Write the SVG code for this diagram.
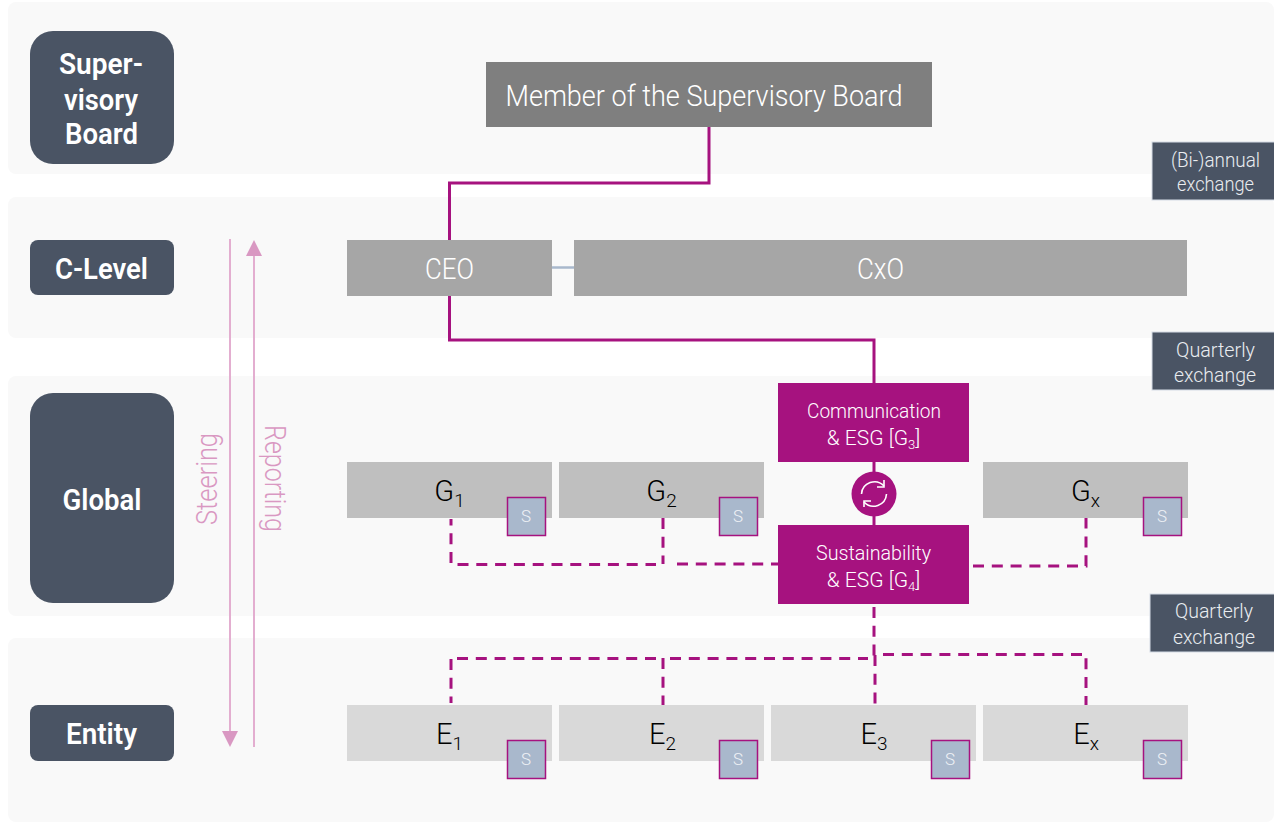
<svg xmlns="http://www.w3.org/2000/svg" width="1274" height="822" viewBox="0 0 1274 822">
<style>
text{font-family:Roboto,"Liberation Sans",sans-serif;font-weight:300;text-anchor:middle}
.band{fill:#f9f9f9}
.pill{fill:#4a5464}
.pt{fill:#fff;font-weight:600;font-size:30px}
.mem{fill:#7f7f7f}.c{fill:#a6a6a6}.g{fill:#bfbfbf}.e{fill:#d9d9d9}
.m{fill:#a6127f}
.w{fill:#fff;font-size:30px}
.k{fill:#000;font-size:29px;font-weight:300}
.mt{fill:#fff;font-size:21px}
.ex{fill:#4a5464;stroke:#d5dce6;stroke-width:1}
.ext{fill:#e9ecf0;font-size:21px}
.s rect{fill:#a9b8cc;stroke:#a6127f;stroke-width:1.500}
.s text{fill:#eef1f5;font-size:17px}
.sol{fill:none;stroke:#a6127f;stroke-width:3}
.das{fill:none;stroke:#a6127f;stroke-width:3;stroke-dasharray:11 7.800}
.pk{fill:#d998c2;font-size:29px}
.ar{stroke:#e3aed0;stroke-width:2;fill:none}
.hd{fill:#d998c2}
.ic{fill:none;stroke:#fff;stroke-width:1.600}
</style>
<g id="bands">
<rect class="band" x="8" y="2" width="1266" height="172" rx="8"/>
<rect class="band" x="8" y="197" width="1266" height="141" rx="8"/>
<rect class="band" x="8" y="376" width="1266" height="240" rx="8"/>
<rect class="band" x="8" y="638" width="1266" height="184" rx="8"/>
</g>
<g id="connectors">
<path class="sol" d="M709 127V183H449.500V240"/>
<path class="sol" d="M449.500 296V340H874V383"/>
<path d="M552 267.500H574" stroke="#a9b8cc" stroke-width="2.500" fill="none"/>
<path class="sol" d="M874 462V525"/>
<path class="das" d="M451 563V519"/>
<path class="das" d="M457.500 564.500H656"/>
<path class="das" d="M663 518V564"/>
<path class="das" d="M677 564H778"/>
<path class="das" d="M973 566H1086V518"/>
<path class="das" d="M874 607V656"/>
<path class="das" d="M875 655V705"/>
<path class="das" d="M451 659V703"/>
<path class="das" d="M457 658.500H656"/>
<path class="das" d="M663 658V706"/>
<path class="das" d="M670 658.500H868"/>
<path class="das" d="M883 654.500H1086V705"/>
</g>
<g id="steering">
<path class="ar" d="M230 239V733"/>
<path class="hd" d="M222 731H238L230 747Z"/>
<text class="pk" transform="translate(217 479) rotate(-90)" textLength="92" lengthAdjust="spacingAndGlyphs">Steering</text>
</g>
<g id="reporting">
<path class="ar" d="M254 747V250"/>
<path class="hd" d="M246 256H262L254 240Z"/>
<text class="pk" transform="translate(265 478.500) rotate(90)" textLength="107" lengthAdjust="spacingAndGlyphs">Reporting</text>
</g>
<g id="label-supervisory"><rect class="pill" x="30" y="31" width="144" height="133" rx="23"/>
<text class="pt" x="101" y="74" textLength="84" lengthAdjust="spacingAndGlyphs">Super-</text>
<text class="pt" x="101" y="109.500" textLength="74" lengthAdjust="spacingAndGlyphs">visory</text>
<text class="pt" x="101.500" y="143.500" textLength="73" lengthAdjust="spacingAndGlyphs">Board</text></g>
<g id="label-clevel"><rect class="pill" x="30" y="240" width="144" height="55" rx="8"/>
<text class="pt" x="101.500" y="279" textLength="93" lengthAdjust="spacingAndGlyphs">C-Level</text></g>
<g id="label-global"><rect class="pill" x="30" y="393" width="144" height="210" rx="23"/>
<text class="pt" x="102" y="510" textLength="79" lengthAdjust="spacingAndGlyphs">Global</text></g>
<g id="label-entity"><rect class="pill" x="30" y="705" width="144" height="56" rx="8"/>
<text class="pt" x="101.500" y="744" textLength="71" lengthAdjust="spacingAndGlyphs">Entity</text></g>
<g id="member"><rect class="mem" x="486" y="62" width="446" height="65"/>
<text class="w" x="704" y="106" textLength="397" lengthAdjust="spacingAndGlyphs">Member of the Supervisory Board</text></g>
<g id="ceo"><rect class="c" x="347" y="240" width="205" height="56"/>
<text class="w" x="449.500" y="279" textLength="49" lengthAdjust="spacingAndGlyphs">CEO</text></g>
<g id="cxo"><rect class="c" x="574" y="240" width="613" height="56"/>
<text class="w" x="880.500" y="279" textLength="47" lengthAdjust="spacingAndGlyphs">CxO</text></g>
<g id="comm"><rect class="m" x="778" y="383" width="191" height="79"/>
<text class="mt" x="874" y="418" textLength="134" lengthAdjust="spacingAndGlyphs">Communication</text>
<text class="mt" x="873.500" y="445">&amp; ESG [G<tspan font-size="13" dy="4">3</tspan><tspan dy="-4">]</tspan></text></g>
<g id="sust"><rect class="m" x="778" y="525" width="191" height="79"/>
<text class="mt" x="873.500" y="560" textLength="115" lengthAdjust="spacingAndGlyphs">Sustainability</text>
<text class="mt" x="873.500" y="587">&amp; ESG [G<tspan font-size="13" dy="4">4</tspan><tspan dy="-4">]</tspan></text></g>
<g id="cycle"><circle class="m" cx="874" cy="494" r="22.500"/>
<path class="ic" d="M861.500 494A13 13 0 0 1 884 486M886.500 494A13 13 0 0 1 864 502"/>
<path class="ic" d="M884 480V487H877M864 507V501H871"/></g>
<g id="g1"><rect class="g" x="347" y="462" width="205" height="56"/>
<text class="k" x="449.500" y="501">G<tspan font-size="19" dy="6">1</tspan></text></g>
<g id="g1-s" class="s"><rect x="507.500" y="497.500" width="38" height="38"/><text x="526" y="522">S</text></g>
<g id="g2"><rect class="g" x="559" y="462" width="205" height="56"/>
<text class="k" x="661.500" y="501">G<tspan font-size="19" dy="6">2</tspan></text></g>
<g id="g2-s" class="s"><rect x="719.500" y="497.500" width="38" height="38"/><text x="738" y="522">S</text></g>
<g id="gx"><rect class="g" x="983" y="462" width="205" height="56"/>
<text class="k" x="1085.500" y="501">G<tspan font-size="19" dy="6">x</tspan></text></g>
<g id="gx-s" class="s"><rect x="1143.500" y="497.500" width="38" height="38"/><text x="1162" y="522">S</text></g>
<g id="e1"><rect class="e" x="347" y="705" width="205" height="56"/>
<text class="k" x="449.500" y="744">E<tspan font-size="19" dy="6">1</tspan></text></g>
<g id="e1-s" class="s"><rect x="507.500" y="740.500" width="38" height="38"/><text x="526" y="765">S</text></g>
<g id="e2"><rect class="e" x="559" y="705" width="205" height="56"/>
<text class="k" x="662.500" y="744">E<tspan font-size="19" dy="6">2</tspan></text></g>
<g id="e2-s" class="s"><rect x="719.500" y="740.500" width="38" height="38"/><text x="738" y="765">S</text></g>
<g id="e3"><rect class="e" x="771" y="705" width="205" height="56"/>
<text class="k" x="874" y="744">E<tspan font-size="19" dy="6">3</tspan></text></g>
<g id="e3-s" class="s"><rect x="931.500" y="740.500" width="38" height="38"/><text x="950" y="765">S</text></g>
<g id="ex"><rect class="e" x="983" y="705" width="205" height="56"/>
<text class="k" x="1086" y="744">E<tspan font-size="19" dy="6">x</tspan></text></g>
<g id="ex-s" class="s"><rect x="1143.500" y="740.500" width="38" height="38"/><text x="1162" y="765">S</text></g>
<g id="exchange-1"><rect class="ex" x="1152" y="142" width="123" height="58"/>
<text class="ext" x="1215.500" y="167" textLength="89" lengthAdjust="spacingAndGlyphs">(Bi-)annual</text>
<text class="ext" x="1215.500" y="191" textLength="77" lengthAdjust="spacingAndGlyphs">exchange</text></g>
<g id="exchange-2"><rect class="ex" x="1152" y="332" width="123" height="58"/>
<text class="ext" x="1215.500" y="357" textLength="79" lengthAdjust="spacingAndGlyphs">Quarterly</text>
<text class="ext" x="1215" y="382" textLength="82" lengthAdjust="spacingAndGlyphs">exchange</text></g>
<g id="exchange-3"><rect class="ex" x="1150" y="594" width="125" height="58"/>
<text class="ext" x="1214" y="618" textLength="78" lengthAdjust="spacingAndGlyphs">Quarterly</text>
<text class="ext" x="1214" y="644" textLength="82" lengthAdjust="spacingAndGlyphs">exchange</text></g>
</svg>
